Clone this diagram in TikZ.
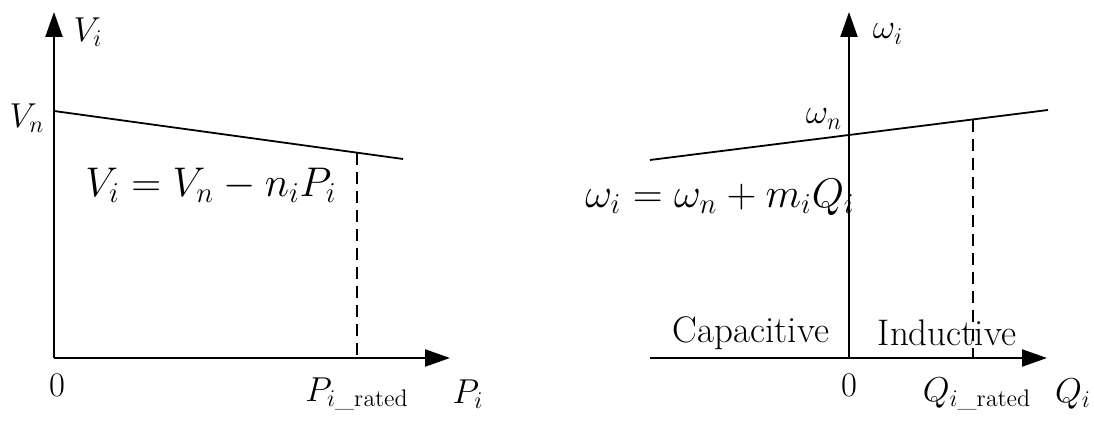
\documentclass[tikz,border=0pt]{standalone}
\usepackage{amsmath,amssymb}
\usetikzlibrary{arrows.meta,positioning}

\begin{document}
\begin{tikzpicture}[
  x=0.5pt, y=-0.5pt,
  axis/.style={line width=1.1pt, -{Triangle[length=12.5pt, width=8.5pt]}},
  droop/.style={line width=0.9pt},
  rated/.style={line width=0.9pt, dash pattern=on 6pt off 3.5pt},
  lbl/.style={inner sep=0pt, font=\fontsize{18.5}{22}\selectfont},
  eqn/.style={inner sep=0pt, font=\fontsize{20.5}{24}\selectfont}
]
  \useasboundingbox (0,0) rectangle (1094,421);
  % P-V droop
  \coordinate (O1) at (54,358);
  \coordinate (Y1) at (54,12);
  \coordinate (X1) at (450,358);
  \coordinate (A1) at (54,111);
  \coordinate (B1) at (403,159);
  \coordinate (R1) at (357,153);
  \coordinate (R1b) at (357,358);
  \draw[axis] (O1) -- (Y1);
  \draw[axis] (O1) -- (X1);
  \draw[droop] (A1) -- (B1);
  \draw[rated] (R1) -- (R1b);
  \node[lbl] (Vi) at (88,32) {$V_i$};
  \node[lbl] (Vn) at (27,118) {$V_n$};
  \node[lbl] (zero1) at (57,385) {$0$};
  \node[lbl] (Prated) at (357,394) {$P_{i\_\mathrm{rated}}$};
  \node[lbl] (Pi) at (468,394) {$P_i$};
  \node[eqn] (eqV) at (211,185) {$V_i = V_n - n_i P_i$};
  % Q-omega droop
  \coordinate (O2) at (849,358);
  \coordinate (L2) at (650,358);
  \coordinate (Y2) at (849,12);
  \coordinate (X2) at (1047,358);
  \coordinate (A2) at (650,160);
  \coordinate (B2) at (1048,110);
  \coordinate (R2) at (973,120);
  \coordinate (R2b) at (973,358);
  \draw[axis] (O2) -- (Y2);
  \draw[axis] (L2) -- (X2);
  \draw[droop] (A2) -- (B2);
  \draw[rated] (R2) -- (R2b);
  \node[lbl] (wi) at (888,34) {$\omega_i$};
  \node[lbl] (wn) at (824,119) {$\omega_n$};
  \node[lbl] (zero2) at (849,385) {$0$};
  \node[lbl] (Qrated) at (977,394) {$Q_{i\_\mathrm{rated}}$};
  \node[lbl] (Qi) at (1073,394) {$Q_i$};
  \node[eqn] (eqW) at (720,197) {$\omega_i = \omega_n + m_i Q_i$};
  \node[lbl] (cap) at (751,333) {Capacitive};
  \node[lbl] (ind) at (947,333) {Inductive};
\end{tikzpicture}
\end{document}
